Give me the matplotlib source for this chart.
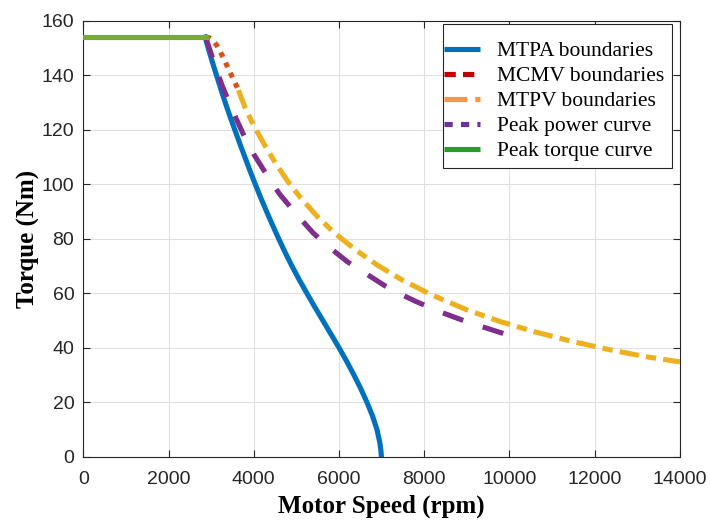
import matplotlib
matplotlib.use("Agg")
import matplotlib.pyplot as plt
from matplotlib.lines import Line2D
from matplotlib.patches import Rectangle

# Data
peak_torque_speed = [0, 2880]
peak_torque = [154, 154]

mtpa_speed = [2860, 2930, 3025, 3125, 3225, 3330, 3440, 3555, 3670, 3790, 3910, 4035,
              4165, 4300, 4440, 4585, 4735, 4895, 5065, 5245, 5430, 5620, 5810, 6000,
              6180, 6350, 6510, 6655, 6785, 6890, 6960, 6985, 6995]
mtpa_torque = [154, 150, 145, 140, 135, 130, 125, 120, 115, 110, 105, 100,
               95, 90, 85, 80, 75, 70, 65, 60, 55, 50, 45, 40,
               35, 30, 25, 20, 15, 10, 5, 2, 0]

mcmv_speed = [2870, 2950, 3050, 3150, 3250, 3350, 3450, 3550, 3640]
mcmv_torque = [154, 153.8, 152.7, 150.5, 147.5, 144.2, 140.8, 137.6, 134.5]

mtpv_speed = [3640, 3800, 4000, 4250, 4500, 4800, 5100, 5500, 5900, 6400, 6900, 7500,
              8200, 9000, 9800, 10600, 11500, 12400, 13200, 14000]
mtpv_torque = [134.5, 128, 121.5, 114.5, 108, 101, 95, 88, 82, 75.8, 70.3, 64.7,
               59.2, 53.9, 49.5, 45.8, 42.2, 39.1, 36.7, 34.8]

pp_speed = [2870, 3050, 3250, 3500, 3750, 4000, 4300, 4600, 5000, 5400, 5800, 6200,
            6700, 7200, 7800, 8400, 9000, 9500, 10000]
pp_torque = [154, 145.5, 136.5, 127, 118.5, 111, 103.5, 96.5, 89, 82, 76.5, 71.5,
             66.5, 61.5, 57, 53, 49.5, 47, 44.5]

xticks = [0, 2000, 4000, 6000, 8000, 10000, 12000, 14000]
yticks = [0, 20, 40, 60, 80, 100, 120, 140, 160]
labels = ["MTPA boundaries", "MCMV boundaries", "MTPV boundaries",
          "Peak power curve", "Peak torque curve"]

fig = plt.figure(figsize=(7.1, 5.2), dpi=100)
ax = fig.add_axes([0.1173, 0.1217, 0.8404, 0.8385])

lw = 3.7
ax.plot(mtpa_speed, mtpa_torque, color="#0072BD", lw=lw, zorder=3)
ax.plot(mcmv_speed, mcmv_torque, color="#D95319", lw=lw,
        linestyle=(0, (1.0, 1.2)), dash_capstyle="butt", zorder=3)
ax.plot(mtpv_speed, mtpv_torque, color="#EDB120", lw=lw,
        linestyle=(0, (3.8, 1.4, 2.0, 1.4)), zorder=3)
ax.plot(pp_speed, pp_torque, color="#7E2F8E", lw=lw,
        linestyle=(0, (4.2, 4.0)), zorder=3)
ax.plot(peak_torque_speed, peak_torque, color="#77AC30", lw=lw, zorder=3)

ax.set_xlim(0, 14000)
ax.set_ylim(0, 160)
ax.set_xticks(xticks)
ax.set_yticks(yticks)
ax.set_xticklabels([str(v) for v in xticks], fontfamily="Liberation Sans", fontsize=14)
ax.set_yticklabels([str(v) for v in yticks], fontfamily="Liberation Sans", fontsize=14)
ax.tick_params(direction="in", length=5, width=0.8, top=True, right=True,
               colors="#262626")
ax.tick_params(axis="x", pad=10)
ax.tick_params(axis="y", pad=6.5)
ax.grid(True, color="#e0e0e0", lw=0.8)
ax.set_axisbelow(True)
for s in ax.spines.values():
    s.set_color("#262626")
    s.set_linewidth(0.8)

ax.set_xlabel("Motor Speed (rpm)", fontfamily="Liberation Serif", fontweight="bold",
              fontsize=18, labelpad=5)
ax.set_ylabel("Torque (Nm)", fontfamily="Liberation Serif", fontweight="bold",
              fontsize=18, labelpad=1)

# legend frame (MATLAB style: handles start at the frame edge)
frame = Rectangle((0.6023, 0.6622), 0.9861 - 0.6023, 0.9924 - 0.6622,
                  transform=ax.transAxes, facecolor="white", edgecolor="#262626",
                  lw=0.8, zorder=5)
ax.add_patch(frame)

handles = [
    Line2D([], [], color="#0072BD", lw=lw, solid_capstyle="butt"),
    Line2D([], [], color="#C00000", lw=lw, linestyle=(0, (2.2, 1.4))),
    Line2D([], [], color="#F79646", lw=lw, linestyle=(0, (4.4, 1.6, 1.0, 1.6))),
    Line2D([], [], color="#7030A0", lw=lw, linestyle=(0, (1.6, 1.6))),
    Line2D([], [], color="#21A121", lw=lw, solid_capstyle="butt"),
]
leg = ax.legend(handles, labels, loc="upper left", bbox_to_anchor=(0.6040, 0.9534),
                borderaxespad=0, prop={"family": "Liberation Serif", "size": 15.5},
                frameon=False, handlelength=1.68, borderpad=0,
                labelspacing=0.23, handletextpad=0.8)
leg.set_zorder(6)

fig.savefig("out.png", dpi=100)
